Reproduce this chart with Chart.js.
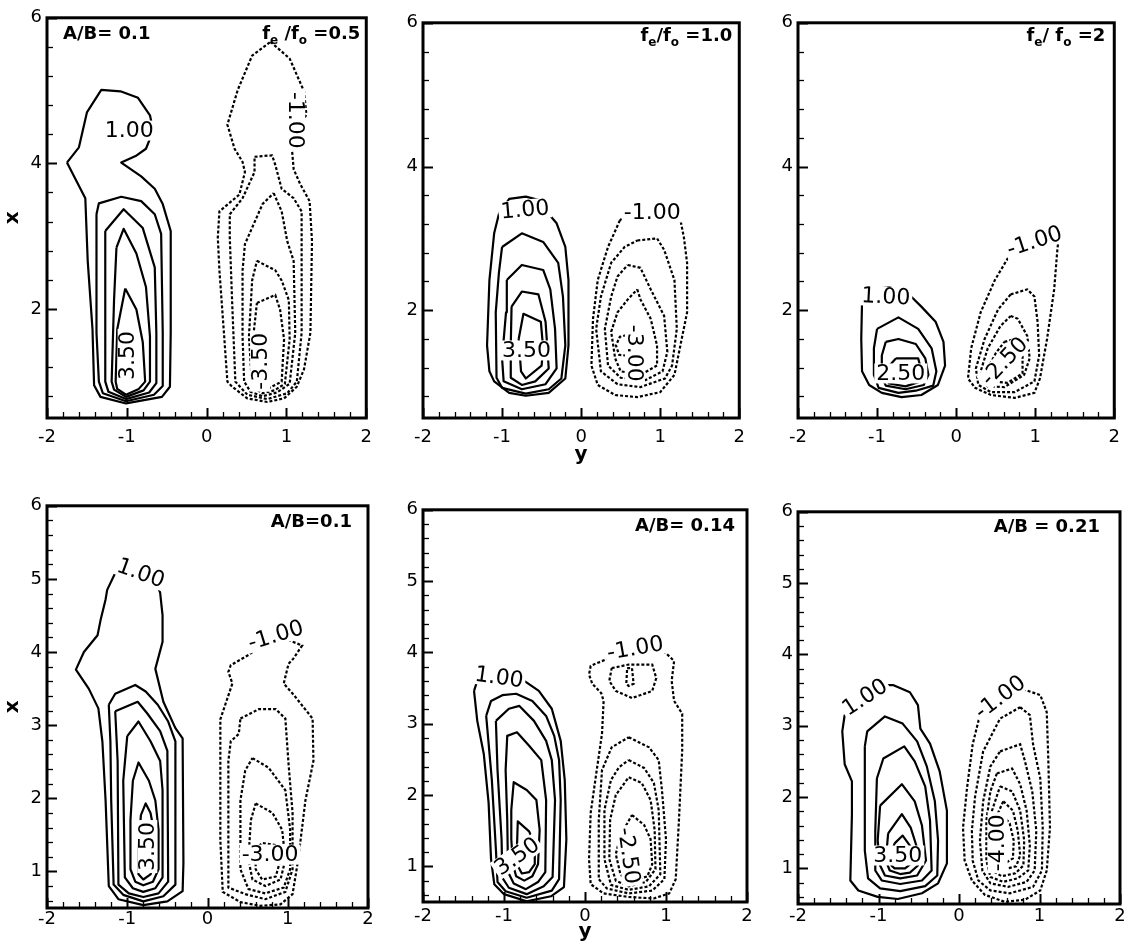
<!DOCTYPE html>
<html>
<head>
<meta charset="utf-8">
<script src="https://cdn.jsdelivr.net/npm/chart.js@4.4.1/dist/chart.umd.min.js"></script>
<style>
  html, body { margin: 0; padding: 0; background: #fff; }
  #wrap { position: relative; width: 1125px; height: 951px; overflow: hidden; background: #fff; }
  #wrap canvas { position: absolute; }
</style>
</head>
<body>
<div id="wrap"></div>
<script>
// Contour lines of each panel. Every point is [y, x]: y runs along the
// horizontal axis, x along the vertical axis. Each contour is a closed loop.

// Panel 1: A/B = 0.1, fe/fo = 0.5
const p1Solid = [
  [[-1.75,4.01],[-1.60,4.22],[-1.50,4.70],[-1.32,5.01],[-1.08,4.99],[-0.86,4.90],[-0.71,4.66],[-0.67,4.45],[-0.76,4.20],[-0.89,4.10],[-1.07,4.01],[-0.82,3.82],[-0.65,3.65],[-0.55,3.44],[-0.45,3.07],[-0.45,1.67],[-0.46,0.93],[-0.56,0.79],[-1.01,0.70],[-1.33,0.79],[-1.41,0.95],[-1.43,1.72],[-1.49,2.66],[-1.52,3.52]],
  [[-1.38,3.30],[-1.35,3.45],[-1.07,3.54],[-0.82,3.48],[-0.65,3.30],[-0.57,3.03],[-0.55,1.67],[-0.55,0.94],[-0.66,0.82],[-1.01,0.73],[-1.30,0.84],[-1.35,1.00],[-1.38,1.67]],
  [[-1.27,3.07],[-1.04,3.37],[-0.80,3.11],[-0.65,2.57],[-0.63,1.67],[-0.63,0.98],[-0.72,0.85],[-1.01,0.76],[-1.23,0.86],[-1.27,1.00],[-1.27,2.12]],
  [[-1.13,2.84],[-1.04,3.10],[-0.88,2.76],[-0.76,2.30],[-0.71,1.62],[-0.71,1.00],[-0.79,0.88],[-1.01,0.79],[-1.16,0.89],[-1.19,1.00],[-1.16,2.12]],
  [[-1.02,2.28],[-0.88,1.99],[-0.80,1.54],[-0.77,1.00],[-0.85,0.90],[-1.01,0.82],[-1.12,0.90],[-1.14,1.00],[-1.12,1.72]]
];
const p1Dashed = [
  [[0.80,5.67],[1.04,5.44],[1.22,4.99],[1.25,4.67],[1.13,4.43],[1.07,4.18],[1.09,3.92],[1.17,3.72],[1.29,3.48],[1.32,2.93],[1.30,1.67],[1.22,1.17],[1.13,0.93],[0.97,0.77],[0.76,0.72],[0.51,0.77],[0.32,0.93],[0.26,1.00],[0.22,1.62],[0.16,2.53],[0.14,2.98],[0.16,3.34],[0.41,3.57],[0.48,3.88],[0.45,4.02],[0.35,4.20],[0.26,4.53],[0.39,5.01],[0.57,5.48]],
  [[0.60,4.09],[0.82,4.11],[0.86,3.98],[0.94,3.65],[1.09,3.52],[1.19,3.34],[1.19,1.67],[1.13,1.00],[1.01,0.84],[0.76,0.76],[0.51,0.82],[0.36,1.00],[0.32,2.08],[0.29,2.98],[0.29,3.30],[0.45,3.52],[0.60,3.88]],
  [[0.84,3.59],[0.94,3.34],[1.01,2.93],[1.09,2.66],[1.11,1.67],[1.04,0.97],[0.88,0.85],[0.70,0.80],[0.55,0.86],[0.47,1.00],[0.45,1.62],[0.45,2.53],[0.48,2.89],[0.70,3.44]],
  [[0.63,2.66],[0.86,2.53],[0.94,2.39],[1.03,2.12],[1.04,1.58],[0.98,0.97],[0.85,0.88],[0.70,0.84],[0.57,0.93],[0.53,1.62],[0.57,2.39]],
  [[0.63,2.08],[0.86,2.19],[0.92,1.99],[0.97,1.58],[0.94,1.00],[0.76,0.90],[0.61,0.98],[0.58,1.58]]
];
// contour labels: [text, y, x, angle in degrees]
const p1Labels = [['1.00',-0.97,4.45,0],['3.50',-0.99,1.36,-90],['-1.00',1.11,4.59,90],['-3.50',0.67,1.28,-90]];

// Panel 2: fe/fo = 1.0
const p2Solid = [
  [[-1.04,3.34],[-1.10,3.07],[-1.16,2.42],[-1.19,1.51],[-1.16,1.15],[-1.10,1.01],[-0.91,0.85],[-0.70,0.81],[-0.41,0.85],[-0.20,1.05],[-0.16,1.51],[-0.16,2.42],[-0.20,2.88],[-0.31,3.21],[-0.41,3.34],[-0.48,3.52],[-0.70,3.58],[-0.91,3.55]],
  [[-1.00,2.88],[-0.75,3.07],[-0.48,2.95],[-0.29,2.66],[-0.23,2.19],[-0.20,1.51],[-0.25,1.05],[-0.41,0.90],[-0.70,0.84],[-1.00,0.92],[-1.07,1.06],[-1.08,1.97],[-1.04,2.52]],
  [[-0.94,2.42],[-0.75,2.63],[-0.48,2.56],[-0.39,2.29],[-0.33,1.74],[-0.31,1.19],[-0.45,0.97],[-0.75,0.90],[-0.98,1.01],[-1.00,1.33],[-0.95,1.97]],
  [[-0.88,2.05],[-0.75,2.26],[-0.54,2.22],[-0.45,1.84],[-0.41,1.19],[-0.58,1.01],[-0.75,0.96],[-0.89,1.06],[-0.89,1.51]],
  [[-0.79,1.60],[-0.73,1.95],[-0.51,1.84],[-0.48,1.47],[-0.50,1.23],[-0.70,1.05],[-0.76,1.15]]
];
const p2Dashed = [
  [[0.49,3.25],[0.34,2.88],[0.21,2.42],[0.15,1.88],[0.13,1.23],[0.21,0.96],[0.43,0.82],[0.71,0.79],[1.00,0.86],[1.18,1.10],[1.34,1.97],[1.34,2.66],[1.30,3.01],[1.25,3.29],[1.03,3.48],[0.71,3.45]],
  [[0.71,2.97],[0.96,3.00],[1.05,2.84],[1.18,2.42],[1.21,1.74],[1.15,1.23],[1.06,1.05],[0.75,0.93],[0.46,0.97],[0.25,1.15],[0.19,1.74],[0.25,2.19],[0.38,2.66],[0.55,2.88]],
  [[0.59,2.63],[0.75,2.59],[0.88,2.29],[1.05,1.92],[1.09,1.42],[1.03,1.15],[0.80,1.02],[0.50,1.06],[0.34,1.23],[0.30,1.74],[0.38,2.19],[0.46,2.47]],
  [[0.71,2.29],[0.75,2.15],[0.88,1.88],[0.96,1.51],[0.96,1.23],[0.75,1.10],[0.50,1.15],[0.43,1.33],[0.38,1.70],[0.46,1.97],[0.59,2.15]],
  [[0.63,1.67],[0.49,1.63],[0.44,1.51],[0.48,1.38],[0.63,1.36],[0.71,1.51]]
];
const p2Labels = [['1.00',-0.71,3.40,-5],['3.50',-0.69,1.44,0],['-1.00',0.90,3.36,0],['-3.00',0.68,1.40,90]];

// Panel 3: fe/fo = 2
const p3Solid = [
  [[-1.19,2.12],[-1.20,1.60],[-1.19,1.15],[-1.10,0.96],[-0.94,0.85],[-0.69,0.79],[-0.44,0.82],[-0.23,0.96],[-0.14,1.23],[-0.16,1.56],[-0.26,1.84],[-0.44,2.05],[-0.56,2.18],[-0.63,2.26],[-0.85,2.32],[-1.10,2.29]],
  [[-1.00,1.74],[-0.73,1.90],[-0.48,1.74],[-0.31,1.47],[-0.25,1.15],[-0.29,0.95],[-0.51,0.88],[-0.73,0.85],[-0.98,0.92],[-1.04,1.10],[-1.04,1.47]],
  [[-0.89,1.56],[-0.73,1.60],[-0.51,1.53],[-0.39,1.33],[-0.35,1.10],[-0.41,0.96],[-0.64,0.90],[-0.89,0.95],[-0.95,1.10],[-0.94,1.37]],
  [[-0.76,1.33],[-0.48,1.33],[-0.44,1.16],[-0.45,1.01],[-0.64,0.94],[-0.85,0.98],[-0.89,1.10],[-0.85,1.22]]
];
const p3Dashed = [
  [[0.69,2.79],[0.49,2.42],[0.31,1.97],[0.19,1.47],[0.15,1.05],[0.24,0.92],[0.44,0.82],[0.74,0.78],[0.99,0.85],[1.06,1.05],[1.15,1.60],[1.24,2.29],[1.28,2.84],[1.30,3.04],[0.99,2.96]],
  [[0.69,2.22],[0.90,2.29],[0.99,2.19],[1.03,1.84],[1.05,1.37],[0.99,1.01],[0.74,0.86],[0.44,0.86],[0.28,0.96],[0.25,1.19],[0.36,1.60],[0.53,2.01]],
  [[0.69,1.92],[0.78,1.88],[0.90,1.64],[0.93,1.33],[0.86,1.10],[0.61,0.93],[0.40,0.94],[0.31,1.15],[0.40,1.47],[0.56,1.78]],
  [[0.61,1.56],[0.75,1.60],[0.84,1.40],[0.84,1.12],[0.65,0.99],[0.44,1.01],[0.40,1.19],[0.50,1.40]]
];
const p3Labels = [['1.00',-0.89,2.19,3],['2.50',-0.70,1.12,0],['-1.00',0.99,2.96,-18],['-2.50',0.61,1.29,-47]];

// Panel 4: A/B = 0.1
const p4Solid = [
  [[-1.15,5.08],[-1.25,4.85],[-1.27,4.72],[-1.33,4.45],[-1.37,4.23],[-1.54,4.00],[-1.64,3.76],[-1.48,3.50],[-1.36,3.23],[-1.31,2.78],[-1.27,1.97],[-1.23,0.80],[-1.11,0.62],[-0.80,0.54],[-0.50,0.59],[-0.31,0.73],[-0.30,1.12],[-0.31,2.82],[-0.40,2.96],[-0.55,3.32],[-0.65,3.77],[-0.56,4.14],[-0.56,4.50],[-0.59,4.81],[-0.65,5.01],[-0.83,5.15],[-1.02,5.22]],
  [[-1.23,3.28],[-1.15,3.43],[-0.90,3.55],[-0.77,3.46],[-0.62,3.28],[-0.49,3.05],[-0.40,2.78],[-0.40,0.82],[-0.55,0.66],[-0.80,0.59],[-1.05,0.68],[-1.17,0.82],[-1.20,1.97],[-1.21,2.78]],
  [[-1.15,3.19],[-0.87,3.32],[-0.75,3.16],[-0.59,2.92],[-0.50,2.65],[-0.49,0.86],[-0.61,0.70],[-0.80,0.65],[-0.98,0.70],[-1.11,0.82],[-1.12,2.51]],
  [[-1.00,2.85],[-0.86,3.05],[-0.71,2.78],[-0.59,2.51],[-0.56,2.11],[-0.56,0.92],[-0.65,0.77],[-0.80,0.72],[-0.93,0.77],[-1.03,0.92],[-1.05,2.24]],
  [[-0.93,2.24],[-0.86,2.49],[-0.73,2.24],[-0.65,1.97],[-0.61,1.57],[-0.61,1.03],[-0.68,0.86],[-0.80,0.81],[-0.90,0.86],[-0.96,1.03],[-0.96,1.70]],
  [[-0.83,1.77],[-0.77,1.93],[-0.71,1.80],[-0.67,1.57],[-0.65,1.16],[-0.71,0.96],[-0.80,0.89],[-0.86,0.96],[-0.86,1.30]]
];
const p4Dashed = [
  [[0.51,3.96],[0.29,3.82],[0.26,3.73],[0.31,3.57],[0.16,3.08],[0.16,2.51],[0.16,1.43],[0.19,0.72],[0.41,0.58],[0.66,0.53],[0.91,0.55],[1.06,0.69],[1.13,1.16],[1.22,1.97],[1.32,2.51],[1.31,3.09],[1.07,3.42],[0.95,3.57],[1.01,3.84],[1.07,3.91],[1.18,4.09],[0.85,4.23]],
  [[0.41,3.09],[0.64,3.22],[0.85,3.22],[0.97,3.09],[1.01,2.47],[1.06,1.80],[1.06,1.03],[0.97,0.72],[0.72,0.62],[0.47,0.69],[0.26,0.78],[0.26,2.51],[0.29,2.78],[0.39,2.88]],
  [[0.56,2.55],[0.76,2.42],[0.97,2.11],[1.03,1.57],[1.03,1.03],[0.95,0.78],[0.72,0.70],[0.51,0.76],[0.41,1.03],[0.41,1.97],[0.47,2.38]],
  [[0.60,1.93],[0.81,1.80],[0.93,1.57],[0.97,1.16],[0.91,0.89],[0.72,0.80],[0.56,0.89],[0.51,1.16],[0.54,1.70]],
  [[0.60,1.30],[0.68,1.39],[0.85,1.36],[0.91,1.16],[0.85,0.93],[0.68,0.89],[0.60,1.03]]
];
const p4Labels = [['1.00',-0.83,5.08,20],['3.50',-0.75,1.34,-90],['-1.00',0.85,4.23,-17],['-3.00',0.78,1.23,0]];

// Panel 5: A/B = 0.14
const p5Solid = [
  [[-1.37,3.46],[-1.33,3.04],[-1.25,2.58],[-1.19,1.89],[-1.16,1.10],[-1.12,0.75],[-1.00,0.61],[-0.72,0.51],[-0.42,0.58],[-0.26,0.71],[-0.23,1.38],[-0.25,2.21],[-0.30,2.76],[-0.41,3.21],[-0.57,3.46],[-0.75,3.60],[-0.94,3.65],[-1.19,3.65],[-1.33,3.60]],
  [[-1.22,3.11],[-1.16,3.32],[-1.02,3.40],[-0.85,3.42],[-0.65,3.32],[-0.48,3.11],[-0.38,2.83],[-0.32,2.49],[-0.30,1.93],[-0.32,0.82],[-0.41,0.66],[-0.72,0.56],[-0.98,0.65],[-1.08,0.78],[-1.10,1.24],[-1.15,2.21]],
  [[-1.10,3.04],[-0.94,3.21],[-0.81,3.25],[-0.63,3.04],[-0.48,2.76],[-0.41,2.49],[-0.37,1.93],[-0.40,0.85],[-0.51,0.72],[-0.72,0.61],[-0.94,0.70],[-1.02,0.84],[-1.03,1.38],[-1.08,2.35]],
  [[-0.98,2.35],[-0.96,2.83],[-0.84,2.88],[-0.69,2.69],[-0.54,2.49],[-0.48,1.93],[-0.49,0.92],[-0.58,0.78],[-0.73,0.68],[-0.88,0.76],[-0.95,0.92],[-0.96,1.65]],
  [[-0.91,1.79],[-0.88,2.18],[-0.72,2.07],[-0.60,1.93],[-0.56,1.51],[-0.58,1.03],[-0.65,0.86],[-0.75,0.80],[-0.85,0.86],[-0.89,1.03],[-0.91,1.38]],
  [[-0.84,1.26],[-0.83,1.63],[-0.69,1.49],[-0.62,1.31],[-0.62,1.03],[-0.69,0.92],[-0.78,0.90],[-0.84,1.03]]
];
const p5Dashed = [
  [[0.30,3.92],[0.17,3.86],[0.07,3.81],[0.05,3.69],[0.09,3.56],[0.20,3.43],[0.23,3.32],[0.21,2.86],[0.14,2.31],[0.07,1.75],[0.05,1.10],[0.07,0.75],[0.23,0.62],[0.54,0.57],[0.85,0.55],[1.04,0.62],[1.12,0.82],[1.16,1.65],[1.20,2.63],[1.20,3.14],[1.10,3.32],[1.07,3.60],[1.10,3.88],[0.98,4.01],[0.62,4.06]],
  [[0.33,3.78],[0.54,3.83],[0.83,3.83],[0.88,3.64],[0.83,3.46],[0.58,3.36],[0.38,3.46],[0.30,3.60]],
  [[0.52,3.78],[0.58,3.78],[0.60,3.56],[0.54,3.53],[0.51,3.56]],
  [[0.54,2.81],[0.79,2.67],[0.91,2.49],[0.95,2.07],[1.00,1.38],[0.98,0.82],[0.83,0.66],[0.54,0.62],[0.27,0.69],[0.17,0.82],[0.17,1.65],[0.21,2.35],[0.33,2.67]],
  [[0.54,2.49],[0.73,2.38],[0.85,2.17],[0.91,1.79],[0.93,0.89],[0.79,0.72],[0.54,0.67],[0.32,0.74],[0.24,1.10],[0.24,1.79],[0.32,2.21],[0.42,2.39]],
  [[0.54,2.25],[0.70,2.17],[0.81,1.93],[0.86,1.51],[0.87,0.96],[0.75,0.78],[0.54,0.72],[0.38,0.80],[0.30,1.10],[0.31,1.65],[0.38,2.00]],
  [[0.58,1.72],[0.73,1.58],[0.81,1.38],[0.83,1.03],[0.77,0.86],[0.60,0.80],[0.44,0.88],[0.38,1.17],[0.44,1.44]]
];
const p5Labels = [['1.00',-1.06,3.65,8],['3.50',-0.84,1.14,-35],['-1.00',0.62,4.06,-10],['-2.50',0.54,1.15,82]];

// Panel 6: A/B = 0.21
const p6Solid = [
  [[-1.42,3.15],[-1.45,2.92],[-1.42,2.46],[-1.33,2.22],[-1.33,1.76],[-1.35,0.83],[-1.25,0.69],[-1.01,0.60],[-0.76,0.57],[-0.46,0.65],[-0.26,0.79],[-0.15,1.07],[-0.15,1.81],[-0.24,2.36],[-0.36,2.75],[-0.48,2.96],[-0.51,3.29],[-0.61,3.47],[-0.82,3.57],[-0.98,3.57],[-1.20,3.40]],
  [[-1.17,2.71],[-1.14,2.92],[-0.92,3.13],[-0.70,3.03],[-0.52,2.78],[-0.40,2.43],[-0.30,1.94],[-0.26,1.39],[-0.27,0.90],[-0.42,0.75],[-0.73,0.68],[-0.98,0.72],[-1.13,0.86],[-1.17,1.25],[-1.17,2.08]],
  [[-1.02,2.26],[-0.94,2.54],[-0.68,2.71],[-0.55,2.50],[-0.42,2.15],[-0.36,1.67],[-0.34,0.97],[-0.46,0.83],[-0.73,0.78],[-0.96,0.83],[-1.04,0.97],[-1.04,1.53]],
  [[-0.98,1.88],[-0.71,2.18],[-0.55,1.94],[-0.46,1.60],[-0.41,1.11],[-0.52,0.90],[-0.73,0.86],[-0.92,0.90],[-0.98,1.04],[-1.01,1.39]],
  [[-0.88,1.49],[-0.71,1.76],[-0.60,1.57],[-0.53,1.32],[-0.51,1.04],[-0.61,0.94],[-0.73,0.92],[-0.86,0.97],[-0.91,1.11]],
  [[-0.80,1.35],[-0.70,1.46],[-0.61,1.32],[-0.58,1.08],[-0.67,1.00],[-0.80,1.00],[-0.84,1.04],[-0.84,1.22]]
];
const p6Dashed = [
  [[0.26,3.15],[0.17,2.74],[0.10,2.13],[0.05,1.57],[0.07,1.11],[0.16,0.83],[0.32,0.63],[0.57,0.53],[0.82,0.56],[1.01,0.69],[1.09,0.97],[1.13,1.57],[1.11,2.50],[1.09,3.19],[1.01,3.43],[0.80,3.51],[0.51,3.38]],
  [[0.76,3.26],[0.88,3.15],[0.92,2.74],[1.01,2.26],[1.04,1.57],[1.03,0.97],[0.92,0.74],[0.63,0.65],[0.39,0.69],[0.24,0.83],[0.17,1.11],[0.16,1.53],[0.20,2.01],[0.30,2.64],[0.51,3.10]],
  [[0.51,2.64],[0.76,2.74],[0.82,2.50],[0.91,2.08],[0.96,1.53],[0.94,0.97],[0.84,0.81],[0.61,0.74],[0.39,0.79],[0.29,0.97],[0.26,1.39],[0.30,1.94],[0.39,2.43]],
  [[0.47,2.33],[0.66,2.40],[0.76,2.18],[0.84,1.81],[0.88,1.32],[0.86,0.97],[0.73,0.86],[0.55,0.81],[0.39,0.88],[0.34,1.11],[0.34,1.67],[0.39,2.08]],
  [[0.51,2.15],[0.66,2.08],[0.76,1.81],[0.81,1.39],[0.80,1.04],[0.70,0.93],[0.53,0.89],[0.41,0.97],[0.39,1.32],[0.41,1.81]],
  [[0.55,1.94],[0.67,1.81],[0.73,1.53],[0.76,1.18],[0.71,1.03],[0.57,0.99],[0.45,1.04],[0.43,1.39],[0.47,1.74]],
  [[0.55,1.74],[0.63,1.63],[0.68,1.39],[0.67,1.14],[0.57,1.07],[0.48,1.11],[0.47,1.39]]
];
const p6Labels = [['1.00',-1.17,3.40,-33],['3.50',-0.76,1.18,0],['-1.00',0.51,3.40,-37],['-4.00',0.48,1.36,-90]];

// Axis ranges and tick labels
const Y_RANGE = [-2, 2];
const X_RANGE = [0.5, 6];
const Y_TICKS = [-2, -1, 0, 1, 2];
const X_TICKS_TOP = [2, 4, 6];
const X_TICKS_BOTTOM = [1, 2, 3, 4, 5, 6];

const FONT = '"DejaVu Sans", Verdana, sans-serif';
Chart.defaults.font.family = FONT;
Chart.defaults.font.size = 18;
Chart.defaults.color = '#000';

// Frame boxes of the six panels on the page: [left, top, right, bottom]
const PANELS = [
  { box: [47, 14, 369, 418], solid: p1Solid, dashed: p1Dashed, labels: p1Labels,
    xTicks: X_TICKS_TOP, xMinor: 0.4, tickGap: 9, leftTitle: true, bottomTitle: false,
    notes: [ { segs: [['A/B= 0.1', 0]], align: 'left', dx: 16, dy: 21 },
             { segs: [['f', 0], ['e', 1], [' /f', 0], ['o', 1], [' =0.5', 0]], align: 'right', dx: -6, dy: 21 } ] },
  { box: [423, 19, 742, 418], solid: p2Solid, dashed: p2Dashed, labels: p2Labels,
    xTicks: X_TICKS_TOP, xMinor: 0.4, tickGap: 9, leftTitle: false, bottomTitle: 37,
    notes: [ { segs: [['f', 0], ['e', 1], ['/f', 0], ['o', 1], [' =1.0', 0]], align: 'right', dx: -7, dy: 18 } ] },
  { box: [798, 19, 1117, 418], solid: p3Solid, dashed: p3Dashed, labels: p3Labels,
    xTicks: X_TICKS_TOP, xMinor: 0.4, tickGap: 9, leftTitle: false, bottomTitle: false,
    notes: [ { segs: [['f', 0], ['e', 1], ['/ f', 0], ['o', 1], [' =2', 0]], align: 'right', dx: -9, dy: 18 } ] },
  { box: [47, 502, 368, 908], solid: p4Solid, dashed: p4Dashed, labels: p4Labels,
    xTicks: X_TICKS_BOTTOM, xMinor: 0.2, tickGap: 1, leftTitle: true, bottomTitle: false,
    notes: [ { segs: [['A/B=0.1', 0]], align: 'right', dx: -16, dy: 21 } ] },
  { box: [423, 506, 747, 902], solid: p5Solid, dashed: p5Dashed, labels: p5Labels,
    xTicks: X_TICKS_BOTTOM, xMinor: 0.2, tickGap: 4, leftTitle: false, bottomTitle: 30,
    notes: [ { segs: [['A/B= 0.14', 0]], align: 'right', dx: -12, dy: 21 } ] },
  { box: [798, 508, 1120, 904], solid: p6Solid, dashed: p6Dashed, labels: p6Labels,
    xTicks: X_TICKS_BOTTOM, xMinor: 0.2, tickGap: 2, leftTitle: false, bottomTitle: false,
    notes: [ { segs: [['A/B = 0.21', 0]], align: 'right', dx: -20, dy: 20 } ] }
];

const PAD_L = 46, PAD_T = 12, PAD_R = 12, PAD_B = 52, AXIS_H = 30;

function closeLoop(pts) {
  return pts.concat([pts[0]]).map(([y, x]) => ({ x: y, y: x }));
}

function drawNote(ctx, note, a) {
  const big = 'bold 18px ' + FONT, small = 'bold 12px ' + FONT;
  let total = 0;
  for (const [t, sub] of note.segs) { ctx.font = sub ? small : big; total += ctx.measureText(t).width; }
  let cx = note.align === 'right' ? a.right + note.dx - total : a.left + note.dx;
  const base = a.top + note.dy;
  ctx.textAlign = 'left';
  ctx.textBaseline = 'alphabetic';
  ctx.fillStyle = '#000';
  for (const [t, sub] of note.segs) {
    ctx.font = sub ? small : big;
    ctx.fillText(t, cx, base + (sub ? 5 : 0));
    cx += ctx.measureText(t).width;
  }
}

function makeDecor(panel) {
  return {
    id: 'panelDecor',
    afterDatasetsDraw(chart) {
      const { ctx, chartArea: a, scales } = chart;
      const xs = scales.x, ys = scales.y;
      ctx.save();

      // contour value labels, each with a white gap behind it
      ctx.font = '22px ' + FONT;
      ctx.textAlign = 'center';
      ctx.textBaseline = 'middle';
      for (const [txt, h, v, rot] of panel.labels) {
        const px = xs.getPixelForValue(h), py = ys.getPixelForValue(v);
        ctx.save();
        ctx.translate(px, py);
        ctx.rotate(rot * Math.PI / 180);
        const w = ctx.measureText(txt).width;
        ctx.fillStyle = '#fff';
        ctx.fillRect(-w / 2 - 2, -10, w + 4, 20);
        ctx.fillStyle = '#000';
        ctx.fillText(txt, 0, 1);
        ctx.restore();
      }

      // inward tick marks on the left and bottom edges
      ctx.strokeStyle = '#000';
      const eps = 1e-6;
      const isMajor = (v, list) => list.some(m => Math.abs(m - v) < eps);
      // bottom axis (y)
      for (let k = -10; k <= 10; k++) {
        const v = k * 0.2;
        const major = isMajor(v, Y_TICKS);
        const len = major ? 10 : 6;
        ctx.lineWidth = major ? 2 : 1.3;
        const px = Math.round(xs.getPixelForValue(v)) + 0.5;
        ctx.beginPath(); ctx.moveTo(px, a.bottom); ctx.lineTo(px, a.bottom - len); ctx.stroke();
      }
      // left axis (x)
      const step = panel.xMinor;
      for (let k = Math.ceil(X_RANGE[0] / step); k * step <= X_RANGE[1] + eps; k++) {
        const v = k * step;
        const major = isMajor(v, panel.xTicks);
        const len = major ? 10 : 6;
        ctx.lineWidth = major ? 2 : 1.3;
        const py = Math.round(ys.getPixelForValue(v)) + 0.5;
        ctx.beginPath(); ctx.moveTo(a.left, py); ctx.lineTo(a.left + len, py); ctx.stroke();
      }

      // frame
      ctx.lineWidth = 3;
      ctx.strokeRect(a.left, a.top, a.right - a.left, a.bottom - a.top);

      // annotations in the corners
      for (const note of panel.notes) drawNote(ctx, note, a);

      // axis titles
      ctx.fillStyle = '#000';
      ctx.font = 'bold 20px ' + FONT;
      ctx.textAlign = 'center';
      ctx.textBaseline = 'middle';
      if (panel.leftTitle) {
        ctx.save();
        ctx.translate(a.left - 34, (a.top + a.bottom) / 2);
        ctx.rotate(-Math.PI / 2);
        ctx.fillText('x', 0, 0);
        ctx.restore();
      }
      if (panel.bottomTitle) {
        ctx.fillText('y', (a.left + a.right) / 2, a.bottom + panel.bottomTitle);
      }
      ctx.restore();
    }
  };
}

const wrap = document.getElementById('wrap');
PANELS.forEach((panel) => {
  const [l, t, r, b] = panel.box;
  const cv = document.createElement('canvas');
  const W = (r - l) + PAD_L + PAD_R, H = (b - t) + PAD_T + PAD_B;
  cv.width = W; cv.height = H;
  cv.style.left = (l - PAD_L) + 'px';
  cv.style.top = (t - PAD_T) + 'px';
  cv.style.width = W + 'px';
  cv.style.height = H + 'px';
  wrap.appendChild(cv);

  const datasets = [];
  panel.solid.forEach((c) => datasets.push({
    data: closeLoop(c), showLine: true, pointRadius: 0, borderColor: '#000',
    borderWidth: 2.2, borderDash: [], fill: false, tension: 0, borderJoinStyle: 'round'
  }));
  panel.dashed.forEach((c) => datasets.push({
    data: closeLoop(c), showLine: true, pointRadius: 0, borderColor: '#000',
    borderWidth: 2.2, borderDash: [3, 2], borderCapStyle: 'butt', fill: false, tension: 0
  }));

  const tickFont = { family: FONT, size: 18 };
  new Chart(cv, {
    type: 'scatter',
    data: { datasets },
    options: {
      responsive: false,
      maintainAspectRatio: false,
      animation: false,
      devicePixelRatio: 1,
      events: [],
      layout: { autoPadding: false, padding: { left: 0, top: PAD_T, right: PAD_R, bottom: PAD_B - AXIS_H } },
      plugins: { legend: { display: false }, tooltip: { enabled: false }, title: { display: false } },
      scales: {
        x: {
          type: 'linear', position: 'bottom', min: Y_RANGE[0], max: Y_RANGE[1],
          grid: { display: false, drawTicks: false }, border: { display: false },
          afterFit: (s) => { s.height = AXIS_H; },
          afterBuildTicks: (s) => { s.ticks = Y_TICKS.map((v) => ({ value: v })); },
          ticks: { padding: panel.tickGap, color: '#000', font: tickFont, maxRotation: 0, autoSkip: false,
                   callback: (v) => String(v) }
        },
        y: {
          type: 'linear', position: 'left', min: X_RANGE[0], max: X_RANGE[1],
          grid: { display: false, drawTicks: false }, border: { display: false },
          afterFit: (s) => { s.width = PAD_L; },
          afterBuildTicks: (s) => { s.ticks = panel.xTicks.map((v) => ({ value: v })); },
          ticks: { padding: 5, color: '#000', font: tickFont, autoSkip: false,
                   callback: (v) => String(v) }
        }
      }
    },
    plugins: [makeDecor(panel)]
  });
});
</script>
</body>
</html>
